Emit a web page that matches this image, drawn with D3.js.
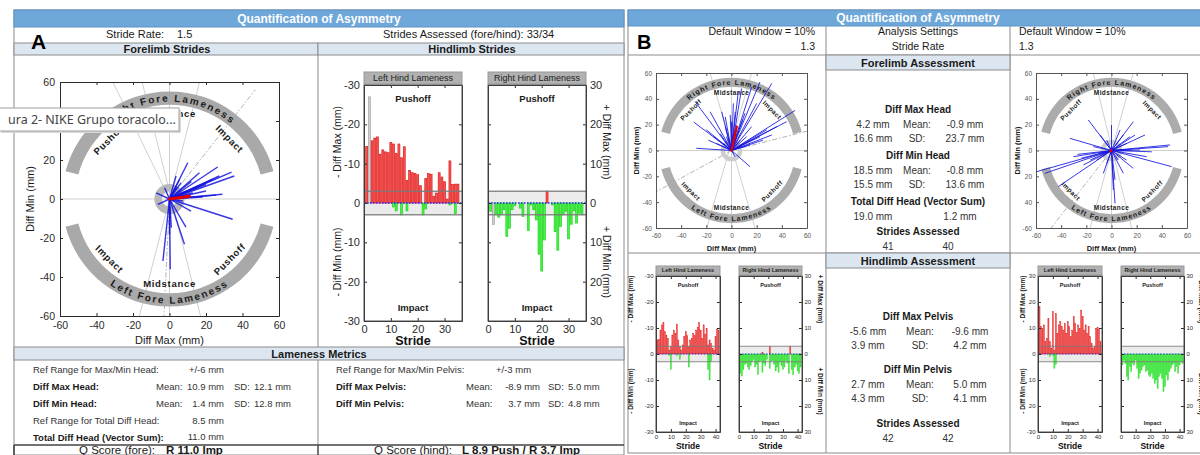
<!DOCTYPE html>
<html>
<head>
<meta charset="utf-8">
<script src="https://cdn.jsdelivr.net/npm/d3@7"></script>
<style>
  body { margin: 0; background: #fff; }
  svg { display: block; font-family: "Liberation Sans", Arial, sans-serif; }
</style>
</head>
<body>
<svg></svg>
<script>
// ---- values ----
let polarTicks = [-60, -40, -20, 0, 20, 40, 60]
let polarLabels = ['-60', '-40', '-20', '0', '20', '40', '60']
let polarLabelsBR = ['-60', '40', '20', '0', '20', '40', '60']
let hindTicks = [-30, -20, -10, 0, 10, 20, 30]
let hindLabelsNeg = ['-30', '-20', '-10', '0', '-10', '-20', '-30']
let hindLabelsPos = ['30', '20', '10', '0', '10', '20', '30']
let hindLabelsBR = ['30', '20', '10', '0', '10', '20', '-30']
let strideTicksA = [0, 10, 20, 30]
let strideTicksB = [0, 10, 20, 30, 40]
let phaseLabels = [['Impact', 45], ['Midstance', 90], ['Pushoff', 135], ['Impact', 225], ['Midstance', 270], ['Pushoff', 315]]
let foreNames = ['Right Fore Lameness', 'Left Fore Lameness']
let ringSpans = [[165, 15], [345, 195]]
let ringIn = 50
let ringOut = 57

// forelimb strides, [diff max, diff min] in mm
let aFore = [[10, 18.6], [26.4, 16.4], [34, 13.8], [35.5, 11.8], [27.3, 11.8], [23.7, 10], [20, 7.5], [16.4, 6.7],
  [29, 2.4], [25.5, 2], [34.6, -10.4], [11.8, -6.2], [9, -14.4], [8.2, -23.2], [0.4, -36], [-3.6, -31.8],
  [5.5, 10], [3.6, 11.8], [-2.7, 5.8], [-7.3, 3.2], [-6.4, -2.7], [7.3, -1], [14.6, 5.8], [20, 4.1],
  [12.7, 3.2], [18.2, 1], [1, -14.7], [0, -18], [6.4, 8.4], [16.4, 13.5], [9, 4.1], [4, 6], [12, 9]]
let aForeMean = [10.9, 1.4]
let bForeL = [[32, 52], [22.6, 53], [16, 49], [8, 48], [5.4, 45.5], [1.5, 36.5], [50.5, 31], [43.8, 22.3],
  [36, 18.5], [28, 16], [32, 12], [16, 18.5], [-7.8, 30], [-5, 26], [-17, 30], [-29, 38], [-30, 22],
  [-20, 16], [-28, 1.7], [-18.4, 8], [-12, 5.5], [-1, 27.5], [-4, 10.7], [14.7, -12.5], [2.8, -4.8],
  [10.7, 28.8], [20, 36.5], [25, 8], [12, 10.7], [-9, 13], [4, 18.4], [6.8, 8], [-14.4, 10.7],
  [-6.5, 5.5], [14.7, 4.3], [22.6, 10.7], [1.5, 13.3], [0, 22.3], [-5, 18.4], [9, 24], [3, 30]]
let bForeLMean = [4.2, 18.5]
let bForeR = [[-59.5, -16.4], [-42.3, -28], [-53, -17.7], [-30.3, -4.8], [-24, -6], [-33, 9.4], [-18.4, 23.6],
  [-9, 12], [0, 19.7], [2.8, -41], [1.5, -30.6], [17.3, 22.3], [18.7, 12], [26.6, 12], [45, 3], [46.5, 4.3],
  [47.8, -12.5], [28, -4.8], [17.3, -13.8], [9.4, -17.7], [-6.5, -17.7], [-11.8, -7.4], [-17, -7.4],
  [12, 5.5], [14.7, 10.7], [6.8, 15.9], [-3.8, 8], [4, 0.4], [12, -7.4], [-22.4, -11.2], [-9, -2.2],
  [22.6, 0.4], [32, -1], [5.4, -7.4], [-3.8, -10], [2.8, -22.8], [-14.4, 3], [9.4, 12], [16, 0.4], [-27, -3]]
let bForeRMean = [-0.9, -0.8]

// reference lines [x1, y1, x2, y2]
let refA = [[-15, 60, 17, -60], [16.5, 60, -16.5, -60], [-60, 0, 60, 0], [0, -60, 0, 60], [-31, 60, 0, 0]]
let dashA = [[0, 0, 47, 56], [0, 0, -3, -60]]
let refBL = [[-17, 60, 18.7, -60], [16, 60, -19.7, -60], [-60, 0, 60, 0], [0, -60, 0, 60]]
let dashBL = [[0, 0, 60, 15], [0, 0, -60, -32]]
let refBR = [[-14.5, 60, 16, -60], [17.3, 60, -17, -60], [-60, 0, 60, 0], [0, -60, 0, 60]]
let dashBR = [[0, 0, -48, -60]]

// hindlimb strides: up = -/+ diff max (red), down = -/+ diff min (green), mm
let aLhUp = [14.4, 27, 15.8, 16.5, 16.8, 12.4, 13.5, 13, 12.8, 15.4, 15, 12.6, 15, 11.5, 14.3, 5.7, 8.3, 7.7,
  7.5, 7.2, 4.4, 0, 6.2, 7.5, 7.3, 1.7, 2.5, 7.7, 6.6, 5.4, 1, 10.7, 4.7, 4.8, 4.8]
let aLhDown = [0, 0, 0, 0, 0, 0, 0, 0, 0, 0, 1, 2, 0, 3, 0, 2, 0, 0, 0, 0, 0, 3, 1.5, 0, 0, 0, 0, 0, 0, 0, 0, 0.5, 0, 2.7, 0]
let aRhUp = [0, 0, 0, 0, 0, 0, 0, 0, 0, 0, 0, 0, 0, 0, 0, 0, 0, 0, 0, 0, 0, 3, 0, 0, 0, 0, 0, 0, 0, 0, 0, 0, 0, 0, 0]
let aRhDown = [2.1, 5.5, 3, 3.6, 3, 1.7, 8.5, 6.4, 1.7, 0.7, 0, 1.3, 3.4, 0, 7, 0.5, 1.7, 4.3, 13, 17.3, 9.4, 0,
  0, 0.5, 7.3, 12, 6, 3, 2.1, 9.1, 5.4, 2, 5.1, 2.6, 3]
let blLhUp = [5.4, 5.6, 9.2, 11.2, 12, 8.6, 7.3, 6, 1.5, 2.8, 7.3, 9.2, 8, 11.5, 5.4, 2.8, 1.5, 3.5, 6.7, 8.6, 7,
  2.8, 5.4, 6, 8, 7, 9.2, 10.3, 12, 9.2, 6, 11.2, 7.7, 9.9, 3.5, 5.4, 4.1, 2.2, 1.5, 6.7, 9.6, 9.2]
let blLhDown = [0, 0, 0, 0, 0, 0, 0, 0, 0.5, 6, 0, 0, 0, 0.5, 0, 2, 0, 0, 0, 0, 0, 5, 0, 0, 0, 0, 0, 0, 0, 0, 0, 0,
  0, 0, 6, 10, 3, 0, 0, 0, 0, 0]
let blRhUp = [0, 0, 0, 0, 0, 0, 0, 0, 0, 0, 0, 0, 0, 0, 0, 0.7, 0, 0, 0, 0, 3, 0, 0, 0, 0, 0, 0, 0, 0, 0, 0, 0, 0,
  0, 3, 0, 0, 0, 0, 0, 0, 0]
let blRhDown = [7.5, 8.5, 6, 4, 3.5, 5, 6, 4.5, 3, 2, 5, 4, 8, 3, 2.5, 7, 3.5, 4.5, 2, 0, 5.5, 3, 2.5, 4, 6.5, 5,
  7, 3, 4.5, 6, 5, 2.5, 3.5, 7.5, 0, 6, 8, 5, 4, 6.5, 7.5, 5]
let brLhUp = [18.2, 10.5, 9.9, 11.2, 4.7, 6, 13.7, 4.7, 2.2, 16.3, 1.5, 15.6, 8, 11.2, 12.4, 10.5, 9.2, 11.8, 8,
  12.4, 10.5, 6.7, 9.2, 14.4, 11.8, 8.2, 11.2, 9.9, 16.9, 14.4, 9.2, 11.2, 8, 10.5, 6.7, 4.1, 2.2, 2.8, 9.9,
  10.3, 9.5, 4.7]
let brLhDown = [0, 0, 0, 0, 0, 0, 0, 1, 0, 0.5, 5.5, 4, 0, 0, 0, 0, 0, 0, 0, 0, 0, 0, 0, 0, 0, 0, 0, 0, 0, 0, 0, 0,
  0, 0, 0, 0, 0, 0, 0, 0, 0, 0]
let brRhUp = []
let brRhDown = [4.2, 2.3, 3.6, 8.7, 10, 4.9, 6.8, 3.6, 4.2, 2.3, 5.5, 9.4, 7.4, 6.2, 4.9, 4.2, 6.8, 6.2, 8.1, 8.7,
  7.4, 9.4, 11.3, 10, 13.2, 8.7, 7.4, 9.4, 14.5, 12.6, 8.1, 10, 6.8, 5.5, 4.2, 3.6, 6.8, 4.9, 7.4, 4.2, 2.9, 3.6]

// table text
let headStats = [['Diff Max Head:', '10.9 mm', '12.1 mm'], ['Diff Min Head:', '1.4 mm', '12.8 mm']]
let pelvisStats = [['Diff Max Pelvis:', '-8.9 mm', '5.0 mm'], ['Diff Min Pelvis:', '3.7 mm', '4.8 mm']]
let qScores = ['R 11.0 Imp', 'L 8.9 Push / R 3.7 Imp']
let foreMaxHead = [['4.2 mm', 'Mean:', '-0.9 mm'], ['16.6 mm', 'SD:', '23.7 mm']]
let foreMinHead = [['18.5 mm', 'Mean:', '-0.8 mm'], ['15.5 mm', 'SD:', '13.6 mm']]
let foreTotal = ['19.0 mm', '1.2 mm']
let foreStrides = ['41', '40']
let hindMaxPelvis = [['-5.6 mm', 'Mean:', '-9.6 mm'], ['3.9 mm', 'SD:', '4.2 mm']]
let hindMinPelvis = [['2.7 mm', 'Mean:', '5.0 mm'], ['4.3 mm', 'SD:', '4.1 mm']]
let hindStrides = ['42', '42']

let svg = d3.select('svg').attr('width', 1200).attr('height', 455)
let defs = svg.append('defs')
let headBlue = '#6ea7d9'
let paleBlue = '#dce6f1'
let rule = '#8c8c8c'

let txt = (x, y, s, o = {}) => {
    let t = svg.append('text')
        .attr('x', x).attr('y', y)
        .attr('font-size', o.size || 10)
        .attr('font-weight', o.bold ? 'bold' : 'normal')
        .attr('text-anchor', o.anchor || 'start')
        .attr('fill', o.color || '#1a1a1a')
        .text(s)
    if (o.rot) t.attr('transform', `rotate(${o.rot},${x},${y})`).attr('dy', '0.35em')
    return t
}
let line = (x1, y1, x2, y2, c, w) => svg.append('line')
    .attr('x1', x1).attr('y1', y1).attr('x2', x2).attr('y2', y2)
    .attr('stroke', c || rule).attr('stroke-width', w || 1)
let box = (x, y, w, h, fill, stroke) => svg.append('rect')
    .attr('x', x).attr('y', y).attr('width', w).attr('height', h)
    .attr('fill', fill || 'none').attr('stroke', stroke || 'none')

let cleanAxis = (ax, fs, col) => {
    ax.attr('font-size', fs).attr('color', col)
    ax.selectAll('g').attr('font-family', null).attr('font-size', null)
}

let drawPolar = (p) => {
    let x = d3.scaleLinear().domain([-60, 60]).range([p.x0, p.x1])
    let y = d3.scaleLinear().domain([-60, 60]).range([p.y1, p.y0])
    let cx = x(0), cy = y(0)
    let k = (x(1) - x(0) + y(0) - y(1)) / 2
    let rad = (a) => a * Math.PI / 180
    let at = (r, a) => [cx + r * Math.cos(rad(a)), cy - r * Math.sin(rad(a))]

    defs.append('clipPath').attr('id', 'clip-' + p.id)
        .append('rect').attr('x', p.x0).attr('y', p.y0).attr('width', p.x1 - p.x0).attr('height', p.y1 - p.y0)
    let g = svg.append('g').attr('clip-path', `url(#clip-${p.id})`)
    g.append('rect').attr('x', p.x0).attr('y', p.y0).attr('width', p.x1 - p.x0).attr('height', p.y1 - p.y0).attr('fill', '#fff')

    g.selectAll('.ref').data(p.refs).enter().append('line')
        .attr('x1', d => x(d[0])).attr('y1', d => y(d[1])).attr('x2', d => x(d[2])).attr('y2', d => y(d[3]))
        .attr('stroke', '#c4c4c4').attr('stroke-width', 0.8)
    g.selectAll('.dref').data(p.dashed).enter().append('line')
        .attr('x1', d => x(d[0])).attr('y1', d => y(d[1])).attr('x2', d => x(d[2])).attr('y2', d => y(d[3]))
        .attr('stroke', '#a8a8a8').attr('stroke-width', 0.9).attr('stroke-dasharray', '5,2,1.5,2')

    let ring = d3.arc().innerRadius(ringIn * k).outerRadius(ringOut * k)
    g.selectAll('.ring').data(ringSpans).enter().append('path')
        .attr('transform', `translate(${cx},${cy})`)
        .attr('d', d => ring({ startAngle: rad(90 - d[0]), endAngle: rad(90 - d[1]) }))
        .attr('fill', p.ringColor)

    let rm = (ringIn + ringOut) / 2 * k
    let ru = rm - p.arcFs * 0.36, rl = rm + p.arcFs * 0.36
    defs.append('path').attr('id', 'up-' + p.id).attr('d', `M${at(ru, 165)}A${ru},${ru} 0 0 1 ${at(ru, 15)}`)
    defs.append('path').attr('id', 'lo-' + p.id).attr('d', `M${at(rl, 195)}A${rl},${rl} 0 0 0 ${at(rl, 345)}`)
    ;['up-', 'lo-'].forEach((pre, i) => {
        g.append('text').attr('font-size', p.arcFs).attr('font-weight', 'bold').attr('letter-spacing', p.arcLs).attr('fill', '#1a1a1a')
            .append('textPath').attr('href', '#' + pre + p.id).attr('startOffset', '50%').attr('text-anchor', 'middle')
            .text(foreNames[i])
    })

    g.selectAll('.phase').data(phaseLabels).enter().append('text')
        .attr('transform', d => {
            let q = at(45 * k, d[1])
            let r = d[1] < 180 ? 90 - d[1] : 270 - d[1]
            return `translate(${q}) rotate(${r})`
        })
        .attr('text-anchor', 'middle').attr('dy', '0.35em')
        .attr('font-size', p.phaseFs).attr('font-weight', 'bold').attr('letter-spacing', p.phaseLs).attr('fill', '#1a1a1a')
        .text(d => d[0])

    g.append('path').attr('transform', `translate(${cx},${cy})`)
        .attr('d', d3.arc().innerRadius(p.hub[0] * k).outerRadius(p.hub[1] * k)({ startAngle: 0, endAngle: 2 * Math.PI }))
        .attr('fill', p.hubColor)

    g.selectAll('.stride').data(p.strides).enter().append('line')
        .attr('x1', cx).attr('y1', cy).attr('x2', d => x(d[0])).attr('y2', d => y(d[1]))
        .attr('stroke', '#1414e0').attr('stroke-width', p.sw).attr('stroke-opacity', 0.85)
    g.append('line').attr('x1', cx).attr('y1', cy).attr('x2', x(p.mean[0])).attr('y2', y(p.mean[1]))
        .attr('stroke', '#e00000').attr('stroke-width', p.mw).attr('stroke-linecap', 'round')

    let ax = svg.append('g')
    ax.append('g').attr('transform', `translate(0,${p.y1})`)
        .call(d3.axisBottom(x).tickValues(polarTicks).tickSize(-3).tickSizeOuter(0).tickPadding(p.pad).tickFormat((d, i) => p.xLabels[i]))
    ax.append('g').attr('transform', `translate(0,${p.y0})`)
        .call(d3.axisTop(x).tickValues(polarTicks).tickSize(-3).tickSizeOuter(0).tickFormat(''))
    ax.append('g').attr('transform', `translate(${p.x0},0)`)
        .call(d3.axisLeft(y).tickValues(polarTicks).tickSize(-3).tickSizeOuter(0).tickPadding(p.pad - 1).tickFormat((d, i) => p.yLabels[i]))
    ax.append('g').attr('transform', `translate(${p.x1},0)`)
        .call(d3.axisRight(y).tickValues(polarTicks).tickSize(-3).tickSizeOuter(0).tickFormat(''))
    cleanAxis(ax, p.tickFs, p.axisColor)

    txt((p.x0 + p.x1) / 2, p.xTitleY, 'Diff Max (mm)', { size: p.titleFs, bold: p.titleBold, anchor: 'middle' })
    txt(p.yTitleX, (p.y0 + p.y1) / 2, 'Diff Min (mm)', { size: p.titleFs, bold: p.titleBold, anchor: 'middle', rot: -90 })
}

let drawHind = (h) => {
    let x = d3.scaleLinear().domain([0, h.n]).range([h.x0, h.x1])
    let y = d3.scaleLinear().domain([-30, 30]).range([h.y0, h.y1])
    let bw = (x(1) - x(0)) * 0.72
    let W = h.x1 - h.x0
    let g = svg.append('g')

    g.append('rect').attr('x', h.x0).attr('y', h.y0 - h.tb - 1).attr('width', W).attr('height', h.tb)
        .attr('fill', '#b1b1b1').attr('stroke', '#9a9a9a')
    g.append('text').attr('x', (h.x0 + h.x1) / 2).attr('y', h.y0 - 1 - h.tb / 2).attr('dy', '0.36em')
        .attr('text-anchor', 'middle').attr('font-size', h.titleFs).attr('font-weight', h.bold ? 'bold' : 'normal')
        .attr('fill', '#222').text(h.title)

    g.append('rect').attr('x', h.x0).attr('y', h.y0).attr('width', W).attr('height', h.y1 - h.y0).attr('fill', '#fff')
    g.append('rect').attr('x', h.x0).attr('y', y(-3)).attr('width', W).attr('height', y(3) - y(-3)).attr('fill', '#ebebeb')

    let ups = h.up.map((v, i) => [i + 1, v]).filter(d => d[1] > 0)
    let downs = h.down.map((v, i) => [i + 1, v]).filter(d => d[1] > 0)
    g.selectAll('.up').data(ups).enter().append('rect')
        .attr('x', d => x(d[0]) - bw / 2).attr('y', d => y(-d[1]))
        .attr('width', bw).attr('height', d => y(0) - y(-d[1]))
        .attr('fill', d => h.excl.includes(d[0]) ? '#cfcfcf' : '#f45656')
        .attr('stroke', d => h.excl.includes(d[0]) ? '#a5a5a5' : '#e01c1c').attr('stroke-width', h.bs)
    g.selectAll('.down').data(downs).enter().append('rect')
        .attr('x', d => x(d[0]) - bw / 2).attr('y', y(0))
        .attr('width', bw).attr('height', d => y(d[1]) - y(0))
        .attr('fill', d => h.excl.includes(d[0]) ? '#cfcfcf' : '#48f548')
        .attr('stroke', d => h.excl.includes(d[0]) ? '#a5a5a5' : '#1fd21f').attr('stroke-width', h.bs)

    ;[-3, 3].forEach(v => g.append('line').attr('x1', h.x0).attr('x2', h.x1).attr('y1', y(v)).attr('y2', y(v))
        .attr('stroke', '#7a7a7a').attr('stroke-width', h.bandW).attr('stroke-opacity', 0.85))
    g.append('line').attr('x1', h.x0).attr('x2', h.x1).attr('y1', y(0)).attr('y2', y(0))
        .attr('stroke', '#2a2aff').attr('stroke-width', h.bandW * 0.8).attr('stroke-dasharray', '1.5,1.5')

    ;[['Pushoff', -26.5], ['Impact', 26.5]].forEach(d => g.append('text')
        .attr('x', (h.x0 + h.x1) / 2).attr('y', y(d[1])).attr('dy', '0.35em').attr('text-anchor', 'middle')
        .attr('font-size', h.phaseFs).attr('font-weight', 'bold').attr('fill', '#1a1a1a').text(d[0]))

    let ax = g.append('g')
    ax.append('g').attr('transform', `translate(0,${h.y1})`)
        .call(d3.axisBottom(x).tickValues(h.ticks).tickSize(-3).tickSizeOuter(0).tickPadding(h.pad))
    ax.append('g').attr('transform', `translate(0,${h.y0})`)
        .call(d3.axisTop(x).tickValues(h.ticks).tickSize(-3).tickSizeOuter(0).tickFormat(''))
    let left = h.side === 'left'
    ax.append('g').attr('transform', `translate(${left ? h.x0 : h.x1},0)`)
        .call((left ? d3.axisLeft(y) : d3.axisRight(y)).tickValues(hindTicks).tickSize(-3).tickSizeOuter(0)
            .tickPadding(h.pad).tickFormat((d, i) => h.labels[i]))
    ax.append('g').attr('transform', `translate(${left ? h.x1 : h.x0},0)`)
        .call((left ? d3.axisRight(y) : d3.axisLeft(y)).tickValues(hindTicks).tickSize(-3).tickSizeOuter(0).tickFormat(''))
    cleanAxis(ax, h.tickFs, '#2b2b2b')
    g.append('rect').attr('x', h.x0).attr('y', h.y0).attr('width', W).attr('height', h.y1 - h.y0)
        .attr('fill', 'none').attr('stroke', '#505050').attr('stroke-width', 1)

    txt((h.x0 + h.x1) / 2, h.y1 + h.strideDy, 'Stride', { size: h.strideFs, bold: true, anchor: 'middle', color: '#111' })
}

// ================= panel A =================
box(14, 10, 610, 445, '#fff', rule)
box(14, 10, 610, 17, headBlue, '#5d93c4')
txt(319, 23, 'Quantification of Asymmetry', { size: 12, bold: true, anchor: 'middle', color: '#fff' })
txt(106, 38, 'Stride Rate:', { size: 11 })
txt(177, 38, '1.5', { size: 11 })
txt(383, 38, 'Strides Assessed (fore/hind): 33/34', { size: 11 })
box(14, 43, 304, 12, paleBlue, rule)
box(318, 43, 306, 12, paleBlue, rule)
txt(167, 53, 'Forelimb Strides', { size: 11, bold: true, anchor: 'middle' })
txt(472, 53, 'Hindlimb Strides', { size: 11, bold: true, anchor: 'middle' })
txt(31, 49, 'A', { size: 21, bold: true, color: '#000' })
line(318, 55, 318, 347)
box(14, 347, 610, 13, paleBlue, rule)
txt(319, 358, 'Lameness Metrics', { size: 11, bold: true, anchor: 'middle' })
line(318, 360, 318, 455)

let mf = 9.5
txt(33, 373, 'Ref Range for Max/Min Head:', { size: mf, color: '#333' })
txt(224, 373, '+/-6 mm', { size: mf, anchor: 'end', color: '#333' })
headStats.forEach((r, i) => {
    txt(33, 390 + i * 17, r[0], { size: mf, bold: true })
    txt(156, 390 + i * 17, 'Mean:', { size: mf, color: '#333' })
    txt(224, 390 + i * 17, r[1], { size: mf, anchor: 'end', color: '#333' })
    txt(234, 390 + i * 17, 'SD:', { size: mf, color: '#333' })
    txt(254, 390 + i * 17, r[2], { size: mf, color: '#333' })
})
txt(33, 424, 'Ref Range for Total Diff Head:', { size: mf, color: '#333' })
txt(224, 424, '8.5 mm', { size: mf, anchor: 'end', color: '#333' })
txt(33, 441, 'Total Diff Head (Vector Sum):', { size: mf, bold: true })
txt(224, 440, '11.0 mm', { size: mf, anchor: 'end', color: '#333' })

txt(336, 373, 'Ref Range for Max/Min Pelvis:', { size: mf, color: '#333' })
txt(496, 373, '+/-3 mm', { size: mf, color: '#333' })
pelvisStats.forEach((r, i) => {
    txt(336, 390 + i * 17, r[0], { size: mf, bold: true })
    txt(466, 390 + i * 17, 'Mean:', { size: mf, color: '#333' })
    txt(540, 390 + i * 17, r[1], { size: mf, anchor: 'end', color: '#333' })
    txt(548, 390 + i * 17, 'SD:', { size: mf, color: '#333' })
    txt(568, 390 + i * 17, r[2], { size: mf, color: '#333' })
})

line(14, 445, 624, 445, '#444', 1.6)
line(14, 445, 14, 455, '#444', 1.6)
line(318, 445, 318, 455, '#444', 1.2)
txt(79, 453.5, 'Q Score (fore):', { size: 11.5 })
txt(166, 453.5, qScores[0], { size: 11.5, bold: true })
txt(374, 453.5, 'Q Score (hind):', { size: 11.5 })
txt(462, 453.5, qScores[1], { size: 11.5, bold: true })

drawPolar({
    id: 'a', x0: 60, x1: 279, y0: 82, y1: 316, strides: aFore, mean: aForeMean, refs: refA, dashed: dashA,
    xLabels: polarLabels, yLabels: polarLabels, tickFs: 10.5, pad: 6, axisColor: '#2a2a2a',
    ringColor: '#a9a9a9', arcFs: 10, arcLs: 1.8, phaseFs: 9.5, phaseLs: 0.7, hub: [4, 8], hubColor: '#b8b8b8',
    sw: 1.4, mw: 3.2, xTitleY: 344, yTitleX: 30, titleFs: 11, titleBold: false
})

let hindA = { y0: 85, y1: 321, n: 36.5, ticks: strideTicksA, tickFs: 11, titleFs: 9, tb: 12, phaseFs: 9.5,
    strideFs: 12.5, strideDy: 24, pad: 4, bs: 0.7, bandW: 1.6, bold: false }
drawHind(Object.assign({}, hindA, { x0: 364, x1: 462, up: aLhUp, down: aLhDown, excl: [2], side: 'left',
    labels: hindLabelsNeg, title: 'Left Hind Lameness' }))
drawHind(Object.assign({}, hindA, { x0: 488, x1: 586, up: aRhUp, down: aRhDown, excl: [2], side: 'right',
    labels: hindLabelsPos, title: 'Right Hind Lameness' }))
txt(337, 142, '- Diff Max (mm)', { size: 10.5, anchor: 'middle', rot: -90 })
txt(337, 262, '- Diff Min (mm)', { size: 10.5, anchor: 'middle', rot: -90 })
txt(607, 142, '+ Diff Max (mm)', { size: 10.5, anchor: 'middle', rot: 90 })
txt(607, 262, '+ Diff Min (mm)', { size: 10.5, anchor: 'middle', rot: 90 })

// ================= panel B =================
box(628, 10, 580, 443, '#fff', rule)
box(628, 10, 580, 16, headBlue, '#5d93c4')
txt(918, 22, 'Quantification of Asymmetry', { size: 12, bold: true, anchor: 'middle', color: '#fff' })
txt(637, 49, 'B', { size: 20, bold: true, color: '#000' })
txt(815, 35, 'Default Window = 10%', { size: 10.5, anchor: 'end' })
txt(815, 50, '1.3', { size: 10.5, anchor: 'end' })
txt(918, 35, 'Analysis Settings', { size: 10.5, anchor: 'middle' })
txt(918, 50, 'Stride Rate', { size: 10.5, anchor: 'middle' })
txt(1019, 35, 'Default Window = 10%', { size: 10.5 })
txt(1019, 50, '1.3', { size: 10.5 })
line(628, 55, 1200, 55)
line(826, 26, 826, 453)
line(1010, 26, 1010, 453)
line(628, 253, 1200, 253)
box(826, 55, 184, 15, paleBlue, rule)
txt(918, 66.5, 'Forelimb Assessment', { size: 11, bold: true, anchor: 'middle' })
box(826, 253, 184, 15, paleBlue, rule)
txt(918, 264.5, 'Hindlimb Assessment', { size: 11, bold: true, anchor: 'middle' })

let statBlock = (title, rows, y, cols) => {
    txt(918, y, title, { bold: true, anchor: 'middle' })
    rows.forEach((r, i) => r.forEach((s, j) => txt(cols[j], y + 14.5 * (i + 1), s, { anchor: 'middle', color: '#333' })))
}
statBlock('Diff Max Head', foreMaxHead, 113, [873, 917, 965])
statBlock('Diff Min Head', foreMinHead, 159, [873, 917, 965])
statBlock('Total Diff Head (Vector Sum)', [foreTotal], 205, [873, 960])
statBlock('Strides Assessed', [foreStrides], 235, [888, 948])
statBlock('Diff Max Pelvis', hindMaxPelvis, 320, [868, 920, 970])
statBlock('Diff Min Pelvis', hindMinPelvis, 373, [868, 920, 970])
statBlock('Strides Assessed', [hindStrides], 427, [888, 948])

let polarB = { y0: 73, y1: 228, tickFs: 6.5, pad: 5, axisColor: '#555', ringColor: '#acacac', arcFs: 7,
    arcLs: 1.1, phaseFs: 6.5, phaseLs: 0.4, hub: [5, 8.5], hubColor: '#cdcdcd', sw: 1, mw: 2.4,
    xTitleY: 250.5, titleFs: 7.5, titleBold: true, xLabels: polarLabels }
drawPolar(Object.assign({}, polarB, { id: 'bl', x0: 656, x1: 807, strides: bForeL, mean: bForeLMean,
    refs: refBL, dashed: dashBL, yLabels: polarLabels, yTitleX: 636 }))
drawPolar(Object.assign({}, polarB, { id: 'br', x0: 1036, x1: 1187, strides: bForeR, mean: bForeRMean,
    refs: refBR, dashed: dashBR, yLabels: polarLabelsBR, yTitleX: 1017 }))

let hindB = { y0: 276, y1: 432, n: 43, ticks: strideTicksB, tickFs: 6, titleFs: 5.5, tb: 9, phaseFs: 5.5,
    strideFs: 8.5, strideDy: 17, pad: 2.5, bs: 0.4, bandW: 1.1, bold: true }
drawHind(Object.assign({}, hindB, { x0: 656, x1: 720, up: blLhUp, down: blLhDown, excl: [], side: 'left',
    labels: hindLabelsNeg, title: 'Left Hind Lameness' }))
drawHind(Object.assign({}, hindB, { x0: 739, x1: 802, up: blRhUp, down: blRhDown, excl: [], side: 'right',
    labels: hindLabelsPos, title: 'Right Hind Lameness' }))
drawHind(Object.assign({}, hindB, { x0: 1038, x1: 1102, up: brLhUp, down: brLhDown, excl: [], side: 'left',
    labels: hindLabelsBR, title: 'Left Hind Lameness' }))
drawHind(Object.assign({}, hindB, { x0: 1121, x1: 1184, up: brRhUp, down: brRhDown, excl: [], side: 'right',
    labels: hindLabelsPos, title: 'Right Hind Lameness' }))
;[[631, 'left'], [820, 'right'], [1023, 'left'], [1201, 'right']].forEach(d => {
    let s = d[1] === 'left' ? '-' : '+'
    let r = d[1] === 'left' ? -90 : 90
    txt(d[0], 299, s + ' Diff Max (mm)', { size: 6.5, bold: true, anchor: 'middle', rot: r })
    txt(d[0], 391, s + ' Diff Min (mm)', { size: 6.5, bold: true, anchor: 'middle', rot: r })
})

// screenshot tooltip lying over panel A
box(1, 110, 180, 23, '#d9d9d9')
box(-1, 108, 180, 23, '#fff', '#a0a0a0')
svg.append('text').attr('x', 8).attr('y', 124).attr('font-size', 12.5)
    .attr('font-family', '"Noto Sans", "Open Sans", sans-serif').attr('fill', '#444')
    .text('ura 2- NIKE Grupo toracolo...')
</script>
</body>
</html>
